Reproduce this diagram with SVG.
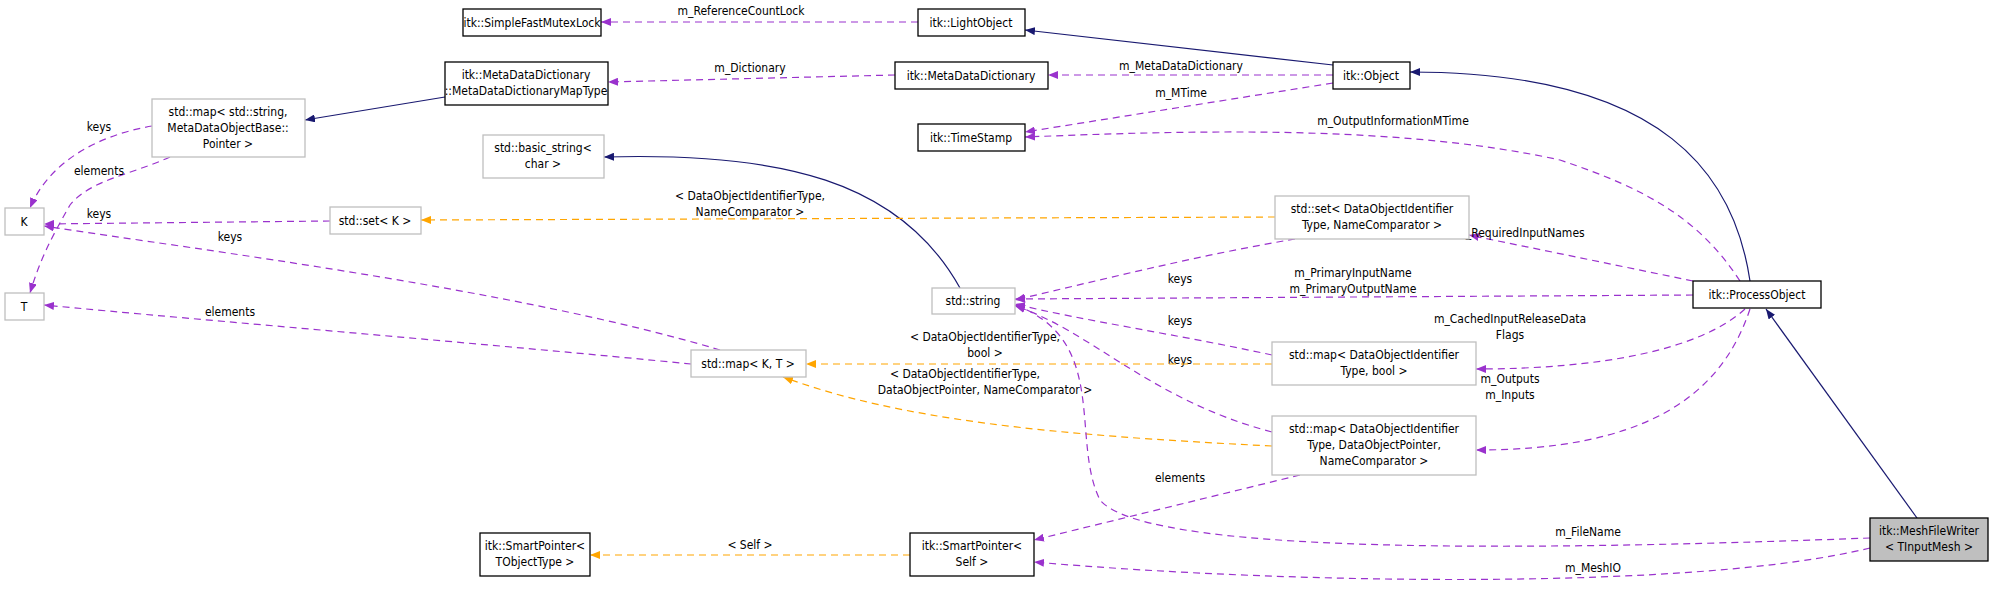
<svg xmlns="http://www.w3.org/2000/svg" width="2003" height="592" viewBox="0 0 2003 592">
<style>
text{font-family:"DejaVu Sans Condensed","DejaVu Sans",sans-serif;font-size:12px;fill:#000;text-anchor:middle}
.n rect{fill:#fff;stroke:#000;stroke-width:1.3}
.g rect{fill:#fff;stroke:#bfbfbf;stroke-width:1.3}
.p{fill:none;stroke:#9a32cd;stroke-dasharray:7,5;stroke-width:1.2}
.o{fill:none;stroke:#ffa500;stroke-dasharray:7,5;stroke-width:1.2}
.b{fill:none;stroke:#191970;stroke-width:1.2}
</style>
<defs>
<marker id="mp" viewBox="0 0 10 8" refX="10" refY="4" markerWidth="10" markerHeight="8" markerUnits="userSpaceOnUse" orient="auto"><path d="M0,0L10,4L0,8z" fill="#9a32cd"/></marker>
<marker id="mo" viewBox="0 0 10 8" refX="10" refY="4" markerWidth="10" markerHeight="8" markerUnits="userSpaceOnUse" orient="auto"><path d="M0,0L10,4L0,8z" fill="#ffa500"/></marker>
<marker id="mb" viewBox="0 0 10 8" refX="10" refY="4" markerWidth="10" markerHeight="8" markerUnits="userSpaceOnUse" orient="auto"><path d="M0,0L10,4L0,8z" fill="#191970"/></marker>
</defs>
<rect width="2003" height="592" fill="#fff"/>
<g id="edges">
<path class="p" marker-end="url(#mp)" d="M918,22L601,22"/><text x="741" y="15">m_ReferenceCountLock</text>
<path class="b" marker-end="url(#mb)" d="M1333,65L1025,30"/>
<path class="p" marker-end="url(#mp)" d="M895,75L608,82"/><text x="750" y="72">m_Dictionary</text>
<path class="b" marker-end="url(#mb)" d="M445,97L305,120"/>
<path class="p" marker-end="url(#mp)" d="M1333,75L1048,75"/><text x="1181" y="70">m_MetaDataDictionary</text>
<path class="p" marker-end="url(#mp)" d="M1333,83L1025,132"/><text x="1181" y="97">m_MTime</text>
<path class="p" marker-end="url(#mp)" d="M1740,281C1700,220 1650,190 1560,160C1400,125 1200,130 1025,137"/><text x="1393" y="125">m_OutputInformationMTime</text>
<path class="b" marker-end="url(#mb)" d="M1750,281C1735,180 1670,72 1410,72"/>
<path class="p" marker-end="url(#mp)" d="M152,126C100,135 50,160 30,208"/><text x="99" y="131">keys</text>
<path class="p" marker-end="url(#mp)" d="M170,157C130,175 90,180 70,205C50,240 40,260 30,293"/><text x="99" y="175">elements</text>
<path class="p" marker-end="url(#mp)" d="M330,221L44,224"/><text x="99" y="218">keys</text>
<path class="p" marker-end="url(#mp)" d="M720,350C520,290 200,250 44,226"/><text x="230" y="241">keys</text>
<path class="p" marker-end="url(#mp)" d="M691,364C500,345 200,320 44,305"/><text x="230" y="316">elements</text>
<path class="b" marker-end="url(#mb)" d="M960,288C900,180 780,152 604,157"/>
<path class="o" marker-end="url(#mo)" d="M1275,217L421,220"/><text x="750" y="200">&lt; DataObjectIdentifierType,</text><text x="750" y="216">NameComparator &gt;</text>
<path class="p" marker-end="url(#mp)" d="M1295,239C1200,255 1100,280 1015,300"/><text x="1180" y="283">keys</text>
<path class="p" marker-end="url(#mp)" d="M1693,281L1469,235"/><text x="1520" y="237">m_RequiredInputNames</text>
<path class="p" marker-end="url(#mp)" d="M1693,295L1015,299"/><text x="1353" y="277">m_PrimaryInputName</text><text x="1353" y="293">m_PrimaryOutputName</text>
<path class="p" marker-end="url(#mp)" d="M1272,355C1180,335 1080,320 1015,304"/><text x="1180" y="325">keys</text>
<path class="p" marker-end="url(#mp)" d="M1272,432C1150,400 1090,330 1015,306"/><text x="1180" y="364">keys</text>
<path class="o" marker-end="url(#mo)" d="M1272,364L806,364"/><text x="985" y="341">&lt; DataObjectIdentifierType,</text><text x="985" y="357">bool &gt;</text>
<path class="o" marker-end="url(#mo)" d="M1272,446C1050,435 900,420 783,377"/><text x="965" y="378">&lt; DataObjectIdentifierType,</text><text x="985" y="394">DataObjectPointer, NameComparator &gt;</text>
<path class="p" marker-end="url(#mp)" d="M1745,309C1700,350 1600,369 1476,369"/><text x="1510" y="323">m_CachedInputReleaseData</text><text x="1510" y="339">Flags</text>
<path class="p" marker-end="url(#mp)" d="M1750,309C1720,400 1640,450 1476,450"/><text x="1510" y="383">m_Outputs</text><text x="1510" y="399">m_Inputs</text>
<path class="p" marker-end="url(#mp)" d="M1300,475L1034,540"/><text x="1180" y="482">elements</text>
<path class="o" marker-end="url(#mo)" d="M910,555L590,555"/><text x="750" y="549">&lt; Self &gt;</text>
<path class="p" marker-end="url(#mp)" d="M1870,538C1600,548 1150,560 1100,500C1070,440 1110,340 1015,305"/><text x="1588" y="536">m_FileName</text>
<path class="p" marker-end="url(#mp)" d="M1870,548C1700,590 1300,585 1034,562"/><text x="1593" y="572">m_MeshIO</text>
<path class="b" marker-end="url(#mb)" d="M1917,518L1766,309"/>
</g>
<g id="sfml" class="n"><rect x="463" y="9" width="138" height="27"/><text x="532" y="27">itk::SimpleFastMutexLock</text></g>
<g id="lightobject" class="n"><rect x="918" y="9" width="107" height="27"/><text x="971" y="27">itk::LightObject</text></g>
<g id="maptype" class="n"><rect x="445" y="62" width="163" height="43"/><text x="526" y="79">itk::MetaDataDictionary</text><text x="526" y="95">::MetaDataDictionaryMapType</text></g>
<g id="mdd" class="n"><rect x="895" y="62" width="153" height="27"/><text x="971" y="80">itk::MetaDataDictionary</text></g>
<g id="object" class="n"><rect x="1333" y="62" width="77" height="27"/><text x="1371" y="80">itk::Object</text></g>
<g id="mapstr" class="g"><rect x="152" y="99" width="153" height="58"/><text x="228" y="116">std::map&lt; std::string,</text><text x="228" y="132">MetaDataObjectBase::</text><text x="228" y="148">Pointer &gt;</text></g>
<g id="timestamp" class="n"><rect x="918" y="124" width="107" height="27"/><text x="971" y="142">itk::TimeStamp</text></g>
<g id="basicstring" class="g"><rect x="483" y="135" width="121" height="43"/><text x="543" y="152">std::basic_string&lt;</text><text x="543" y="168">char &gt;</text></g>
<g id="K" class="g"><rect x="5" y="208" width="39" height="27"/><text x="24" y="226">K</text></g>
<g id="setK" class="g"><rect x="330" y="207" width="91" height="27"/><text x="375" y="225">std::set&lt; K &gt;</text></g>
<g id="setDOI" class="g"><rect x="1275" y="196" width="194" height="43"/><text x="1372" y="213">std::set&lt; DataObjectIdentifier</text><text x="1372" y="229">Type, NameComparator &gt;</text></g>
<g id="T" class="g"><rect x="5" y="293" width="39" height="27"/><text x="24" y="311">T</text></g>
<g id="stdstring" class="g"><rect x="932" y="288" width="83" height="26"/><text x="973" y="305">std::string</text></g>
<g id="processobject" class="n"><rect x="1693" y="281" width="128" height="27"/><text x="1757" y="299">itk::ProcessObject</text></g>
<g id="mapKT" class="g"><rect x="691" y="350" width="115" height="27"/><text x="748" y="368">std::map&lt; K, T &gt;</text></g>
<g id="mapbool" class="g"><rect x="1272" y="342" width="204" height="43"/><text x="1374" y="359">std::map&lt; DataObjectIdentifier</text><text x="1374" y="375">Type, bool &gt;</text></g>
<g id="mapdop" class="g"><rect x="1272" y="416" width="204" height="59"/><text x="1374" y="433">std::map&lt; DataObjectIdentifier</text><text x="1374" y="449">Type, DataObjectPointer,</text><text x="1374" y="465">NameComparator &gt;</text></g>
<g id="spTObj" class="n"><rect x="480" y="533" width="110" height="43"/><text x="535" y="550">itk::SmartPointer&lt;</text><text x="535" y="566">TObjectType &gt;</text></g>
<g id="spSelf" class="n"><rect x="910" y="533" width="124" height="43"/><text x="972" y="550">itk::SmartPointer&lt;</text><text x="972" y="566">Self &gt;</text></g>
<g id="meshfilewriter" class="n"><rect x="1870" y="518" width="118" height="43" style="fill:#bfbfbf"/><text x="1929" y="535">itk::MeshFileWriter</text><text x="1929" y="551">&lt; TInputMesh &gt;</text></g>
</svg>
